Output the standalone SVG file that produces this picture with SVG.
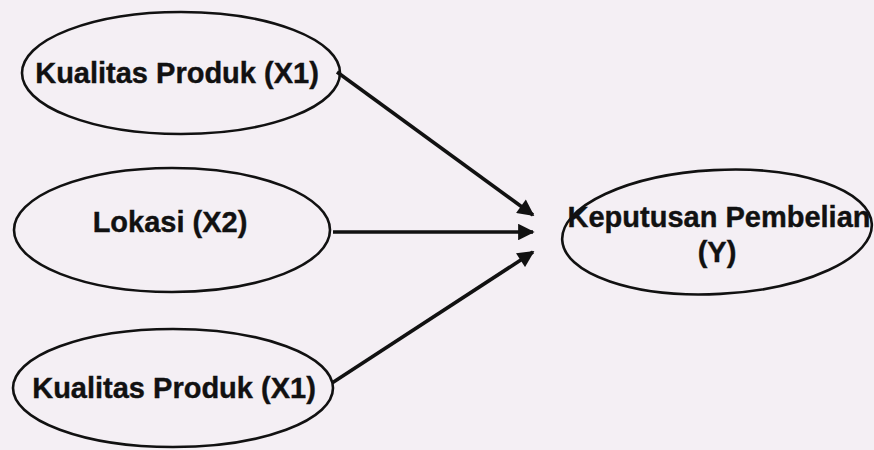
<svg xmlns="http://www.w3.org/2000/svg" width="874" height="450" viewBox="0 0 874 450">
<style>
.node ellipse{fill:none;stroke:#111;stroke-width:2.6}
.node text{font-family:"Liberation Sans",Arial,sans-serif;font-weight:bold;font-size:29px;fill:#111;text-anchor:middle;stroke:#111;stroke-width:0.4}
.edge{stroke:#111;stroke-width:3.6;fill:none;marker-end:url(#ah)}
</style>
<defs>
<marker id="ah" viewBox="0 0 10 10" refX="9" refY="5" markerWidth="5" markerHeight="4.6" orient="auto" markerUnits="strokeWidth">
<path d="M0,0 L10,5 L0,10 z" fill="#111"/>
</marker>
</defs>
<rect width="874" height="450" fill="#f4eff4"/>
<g id="n1" class="node">
<ellipse cx="181" cy="73" rx="159" ry="61"/>
<text x="177" y="83">Kualitas Produk (X1)</text>
</g>
<g id="n2" class="node">
<ellipse cx="172" cy="230" rx="158" ry="62"/>
<text x="170" y="232">Lokasi (X2)</text>
</g>
<g id="n3" class="node">
<ellipse cx="173" cy="388" rx="160" ry="59"/>
<text x="174" y="398">Kualitas Produk (X1)</text>
</g>
<g id="n4" class="node">
<ellipse cx="717" cy="232" rx="155" ry="62" transform="rotate(-3 717 232)"/>
<text x="719" y="227">Keputusan Pembelian</text>
<text x="717" y="262">(Y)</text>
</g>
<g id="connectors">
<line class="edge" x1="337" y1="72" x2="533" y2="215"/>
<line class="edge" x1="333" y1="232" x2="533" y2="232"/>
<line class="edge" x1="332" y1="383" x2="533" y2="252"/>
</g>
</svg>
